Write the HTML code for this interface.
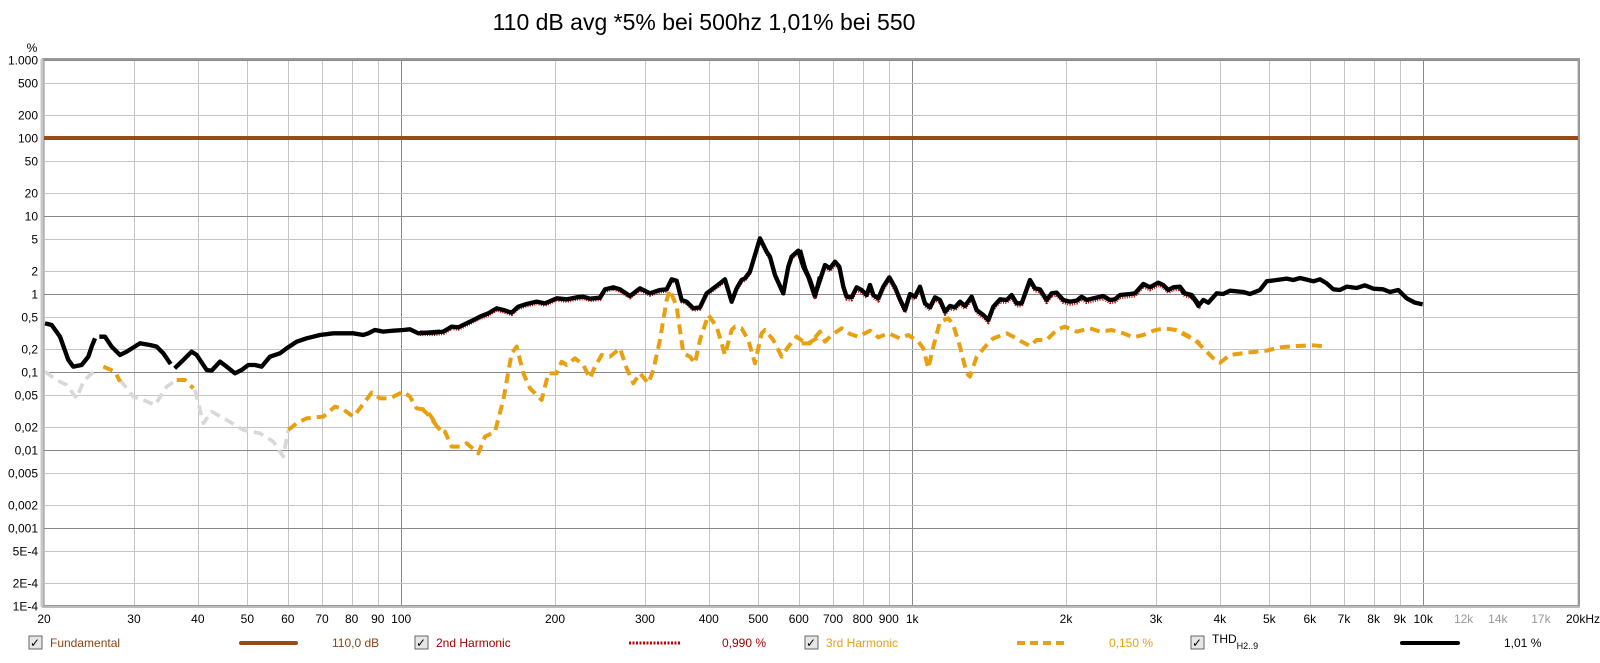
<!DOCTYPE html>
<html><head><meta charset="utf-8"><style>
body{margin:0;background:#fff;width:1600px;height:658px;overflow:hidden;font-family:"Liberation Sans",sans-serif}
</style></head><body>
<svg width="1600" height="658" xmlns="http://www.w3.org/2000/svg" font-family="Liberation Sans, sans-serif">
<rect width="1600" height="658" fill="#fff"/>
<text x="704" y="30" font-size="23" text-anchor="middle" fill="#000">110 dB avg *5% bei 500hz 1,01% bei 550</text>
<g id="grid"></g>
<g id="labels" font-size="12" fill="#000"></g>
<rect x="43" y="59" width="1536" height="547" fill="none" stroke="#999" stroke-width="2"/>
<line x1="42" y1="59" x2="42" y2="607" stroke="#c8c8c8" stroke-width="3"/>
<line x1="42" y1="607" x2="1580" y2="607" stroke="#bbb" stroke-width="2"/>
<line x1="44" y1="138" x2="1578" y2="138" stroke="#9a4a14" stroke-width="4"/>

<g fill="none" stroke-linejoin="round" stroke-linecap="butt">
<g transform="translate(40,200) scale(0.3333)">
<polyline stroke="#d8d8d8" stroke-width="11" stroke-dasharray="30,18" points="15,515 50,540 80,555 110,595 130,545 155,520 175,505"/>
<polyline stroke="#d8d8d8" stroke-width="11" stroke-dasharray="30,18" points="240,540 280,590 310,600 345,615 380,560 410,540"/>
<polyline stroke="#d8d8d8" stroke-width="11" stroke-dasharray="30,18" points="465,570 490,670 515,635 560,660 610,690 660,700 700,725 730,770 745,690"/>
<polyline stroke="#e8a010" stroke-width="12" stroke-dasharray="30,18" points="190,500 225,515 240,545"/>
<polyline stroke="#e8a010" stroke-width="12" stroke-dasharray="30,18" points="410,540 435,540 460,565"/>
<polyline stroke="#e8a010" stroke-width="12" stroke-dasharray="30,18" points="745,690 770,670 800,655 850,650 885,620 905,625 940,650 960,625 995,578 1020,595 1050,595 1090,575 1110,590 1130,625 1160,630 1200,690"/>
<polyline stroke="#000" stroke-width="13" points="15,370 35,375 60,410 85,480 100,500 125,495 145,470 155,440 165,415"/>
<polyline stroke="#000" stroke-width="13" points="178,410 195,410 215,440 240,465 260,455 300,430 330,435 350,440 370,460 392,492"/>
<polyline stroke="#000" stroke-width="13" points="404,505 430,480 455,455 470,465 500,510 515,512 540,485 560,500 585,520 605,510 625,495 645,495 665,500 690,470 720,460 740,445 770,425 800,415 840,405 880,400 940,400 970,405 985,400 1005,390 1030,395 1060,392 1090,390 1110,388 1135,400 1160,398 1200,395"/>
</g>
<g transform="translate(420,200) scale(0.3333)">
<polyline stroke="#e8a010" stroke-width="12" stroke-dasharray="30,18" points="5,625 30,650 55,685 75,695 95,740 120,740 140,730 175,760 195,710 225,695 250,600 275,460 290,440 310,520 330,565 350,585 365,600 385,520 410,520 425,485 440,495 465,475 490,495 510,535 525,500 545,465 570,470 600,445 620,505 640,550 660,520 685,550 700,510 720,420 740,300 750,270 770,320 790,460 810,470 825,490 840,420 865,345 890,380 915,465 935,390 945,380 965,385 985,420 1005,490 1025,400 1035,390 1060,420 1085,470 1105,440 1130,410 1150,425 1165,430 1190,415 1200,400"/>
<polyline stroke="#c00000" stroke-width="9" stroke-dasharray="3,4" transform="translate(0,6)" points="0,398 40,398 70,395 95,380 115,382 150,365 180,350 205,340 230,325 250,330 275,338 295,320 320,312 350,305 375,310 410,295 440,298 470,292 490,290 510,296 540,293 555,268 580,262 600,268 630,288 660,265 690,280 720,270 740,268 755,238 770,242 785,300 800,305 820,325 840,322 860,280 880,265 900,250 915,238 935,305 950,265 965,240 975,235 990,215 1020,115 1040,155 1050,170 1065,225 1090,280 1105,200 1115,170 1135,152 1150,200 1165,230 1185,290 1200,230"/>
<polyline stroke="#000" stroke-width="13" points="0,398 40,398 70,395 95,380 115,382 150,365 180,350 205,340 230,325 250,330 275,338 295,320 320,312 350,305 375,310 410,295 440,298 470,292 490,290 510,296 540,293 555,268 580,262 600,268 630,288 660,265 690,280 720,270 740,268 755,238 770,242 785,300 800,305 820,325 840,322 860,280 880,265 900,250 915,238 935,305 950,265 965,240 975,235 990,215 1020,115 1040,155 1050,170 1065,225 1090,280 1105,200 1115,170 1135,152 1150,200 1165,230 1185,290 1200,230"/>
</g>
<g transform="translate(800,200) scale(0.3333)">
<polyline stroke="#e8a010" stroke-width="12" stroke-dasharray="30,18" points="5,430 30,430 60,395 75,425 95,405 125,385 150,402 175,410 210,392 235,412 265,400 300,415 325,405 355,425 370,445 385,505 400,440 420,365 445,355 460,375 480,440 500,520 510,530 530,470 560,435 580,415 620,400 640,410 665,425 690,438 710,420 740,420 770,390 795,380 830,395 870,385 900,395 935,390 970,400 1000,412 1030,405 1060,392 1090,385 1130,390 1160,405 1200,430"/>
<polyline stroke="#c00000" stroke-width="9" stroke-dasharray="3,4" transform="translate(0,8)" points="0,150 15,205 30,240 45,285 60,240 75,195 90,205 105,185 118,200 130,260 140,290 155,292 170,262 185,270 200,285 210,255 220,285 235,295 250,260 268,232 285,262 300,298 315,330 330,282 345,290 360,260 375,310 390,322 405,292 420,300 435,335 450,318 465,322 480,305 495,318 515,290 530,330 550,345 565,360 580,320 600,298 620,300 635,285 650,310 665,310 690,240 705,265 720,268 740,300 755,280 770,278 790,300 810,305 830,302 845,290 860,300 880,295 910,288 930,300 945,298 960,285 990,282 1005,280 1030,252 1050,262 1075,248 1090,255 1105,270 1120,262 1140,260 1155,280 1175,285 1200,318"/>
<polyline stroke="#000" stroke-width="13" points="0,150 15,205 30,240 45,285 60,240 75,195 90,205 105,185 118,200 130,260 140,290 155,292 170,262 185,270 200,285 210,255 220,285 235,295 250,260 268,232 285,262 300,298 315,330 330,282 345,290 360,260 375,310 390,322 405,292 420,300 435,335 450,318 465,322 480,305 495,318 515,290 530,330 550,345 565,360 580,320 600,298 620,300 635,285 650,310 665,310 690,240 705,265 720,268 740,300 755,280 770,278 790,300 810,305 830,302 845,290 860,300 880,295 910,288 930,300 945,298 960,285 990,282 1005,280 1030,252 1050,262 1075,248 1090,255 1105,270 1120,262 1140,260 1155,280 1175,285 1200,318"/>
</g>
<g transform="translate(1180,200) scale(0.3333)">
<polyline stroke="#e8a010" stroke-width="12" stroke-dasharray="30,18" points="5,400 45,420 75,450 100,475 120,488 150,465 200,458 260,452 300,442 350,438 400,436 440,440"/>
<polyline stroke="#000" stroke-width="13" points="0,260 10,278 30,285 45,300 55,318 70,300 85,308 110,280 130,282 150,272 190,276 210,282 240,270 260,244 290,240 320,236 340,240 360,234 385,240 400,244 420,238 440,250 460,268 480,270 500,260 530,264 555,256 580,266 610,268 630,276 655,270 680,295 705,308 728,313"/>
</g>
</g>

<g font-size="12">
<rect x="29" y="636" width="13" height="13" fill="#e6e6e6" stroke="#666"/><text x="30" y="647" font-size="12">✓</text>
<text x="50" y="647" fill="#8b4513">Fundamental</text>
<line x1="241" y1="643" x2="296" y2="643" stroke="#9a4a14" stroke-width="4" stroke-linecap="round"/>
<text x="332" y="647" fill="#8b4513">110,0 dB</text>
<rect x="415" y="636" width="13" height="13" fill="#e6e6e6" stroke="#666"/><text x="416" y="647" font-size="12">✓</text>
<text x="436" y="647" fill="#a00000">2nd Harmonic</text>
<line x1="629" y1="643" x2="681" y2="643" stroke="#c00000" stroke-width="3" stroke-dasharray="2,1.5"/>
<text x="722" y="647" fill="#a00000">0,990 %</text>
<rect x="805" y="636" width="13" height="13" fill="#e6e6e6" stroke="#666"/><text x="806" y="647" font-size="12">✓</text>
<text x="826" y="647" fill="#e8a010">3rd Harmonic</text>
<line x1="1017" y1="643" x2="1069" y2="643" stroke="#e8a010" stroke-width="4" stroke-dasharray="8,5"/>
<text x="1109" y="647" fill="#e8a010">0,150 %</text>
<rect x="1191" y="636" width="13" height="13" fill="#e6e6e6" stroke="#666"/><text x="1192" y="647" font-size="12">✓</text>
<text x="1212" y="643" fill="#000">THD<tspan font-size="9" dy="6">H2..9</tspan></text>
<line x1="1402" y1="643" x2="1458" y2="643" stroke="#000" stroke-width="4" stroke-linecap="round"/>
<text x="1504" y="647" fill="#000">1,01 %</text>
</g>

<script>
var ns="http://www.w3.org/2000/svg";
var g=document.getElementById("grid"),L=document.getElementById("labels");
function X(f){return 44+511*Math.log10(f/20);}
function Y(v){return 60+78*Math.log10(1000/v);}
function ln(x1,y1,x2,y2,c){var l=document.createElementNS(ns,"line");l.setAttribute("x1",x1);l.setAttribute("y1",y1);l.setAttribute("x2",x2);l.setAttribute("y2",y2);l.setAttribute("stroke",c);l.setAttribute("stroke-width",1);g.appendChild(l);}
function tx(x,y,s,a,c){var t=document.createElementNS(ns,"text");t.setAttribute("x",x);t.setAttribute("y",y);t.setAttribute("text-anchor",a);if(c)t.setAttribute("fill",c);t.textContent=s;L.appendChild(t);}
var f=[];for(var d=10;d<=10000;d*=10)for(var k=1;k<10;k++){var v=d*k;if(v>=20&&v<=20000)f.push(v);}f.push(20000);
f.forEach(function(v){var x=Math.round(X(v))+0.5;var dec=(v==100||v==1000||v==10000);ln(x,60,x,606,dec?"#888":(v>10000?"#ddd":"#c4c4c4"));});
var yl=[[1000,"1.000"],[500,"500"],[200,"200"],[100,"100"],[50,"50"],[20,"20"],[10,"10"],[5,"5"],[2,"2"],[1,"1"],[0.5,"0,5"],[0.2,"0,2"],[0.1,"0,1"],[0.05,"0,05"],[0.02,"0,02"],[0.01,"0,01"],[0.005,"0,005"],[0.002,"0,002"],[0.001,"0,001"],[5e-4,"5E-4"],[2e-4,"2E-4"],[1e-4,"1E-4"]];
yl.forEach(function(p){var y=Math.round(Y(p[0]))+0.5;var lg=Math.log10(p[0]);var dec=Math.abs(lg-Math.round(lg))<1e-6;ln(44,y,1578,y,dec?"#888":"#c4c4c4");tx(38,y+4,p[1],"end");});
tx(32,52,"%","middle");
var xl=[[20,"20"],[30,"30"],[40,"40"],[50,"50"],[60,"60"],[70,"70"],[80,"80"],[90,"90"],[100,"100"],[200,"200"],[300,"300"],[400,"400"],[500,"500"],[600,"600"],[700,"700"],[800,"800"],[900,"900"],[1000,"1k"],[2000,"2k"],[3000,"3k"],[4000,"4k"],[5000,"5k"],[6000,"6k"],[7000,"7k"],[8000,"8k"],[9000,"9k"],[10000,"10k"],[12000,"12k","#999"],[14000,"14k","#999"],[17000,"17k","#999"],[20000,"20kHz"]];
xl.forEach(function(p){tx(X(p[0])+(p[0]==20000?6:0),623,p[1],"middle",p[2]);});
</script>
</svg>
</body></html>
